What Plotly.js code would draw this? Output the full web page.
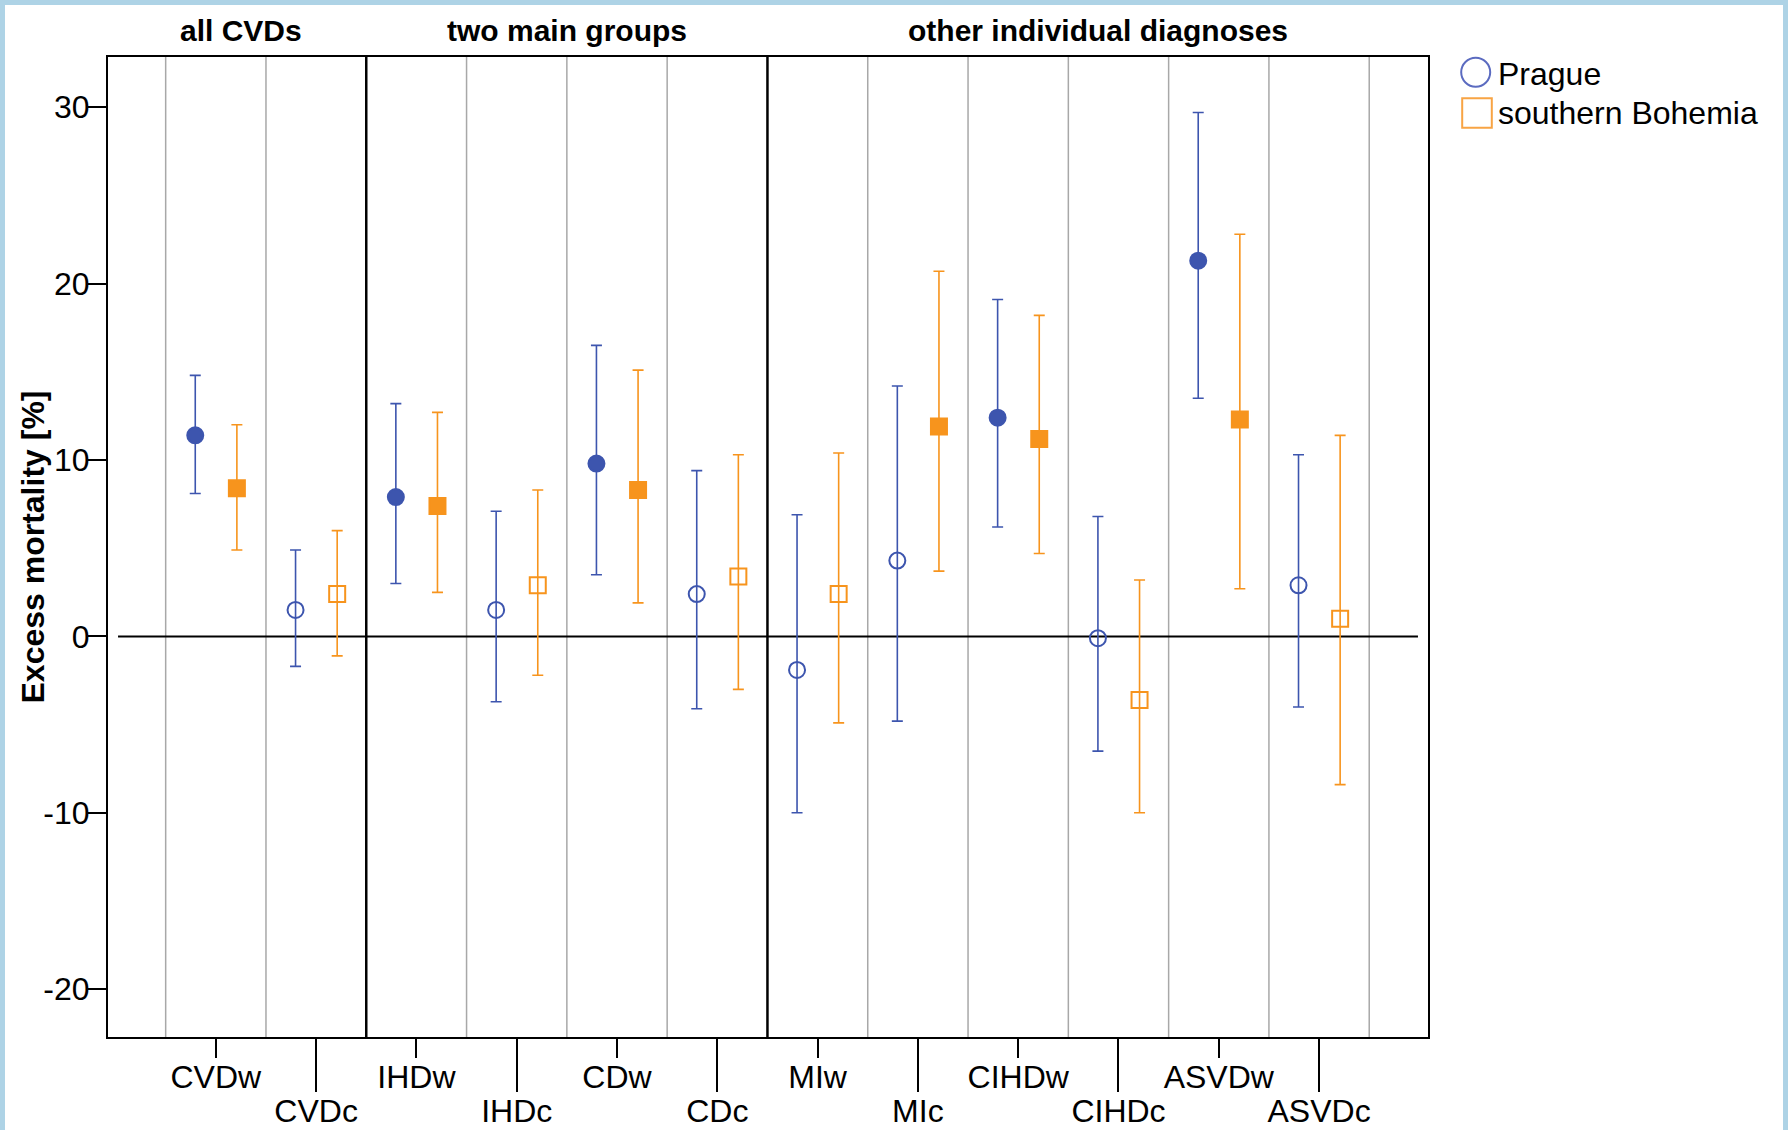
<!DOCTYPE html>
<html><head><meta charset="utf-8">
<script src="https://cdn.plot.ly/plotly-3.0.1.min.js"></script>
<style>
html,body{margin:0;padding:0;background:#aed3e6;width:1788px;height:1130px;overflow:hidden}
#chart{position:absolute;left:5px;top:5px;width:1778px;height:1125px;background:#fff}
</style></head><body><div id="chart"></div>
<script>
// ---- data ----
const categories = ['CVDw','CVDc','IHDw','IHDc','CDw','CDc','MIw','MIc','CIHDw','CIHDc','ASVDw','ASVDc'];
const pragueEst  = [11.4, 1.5, 7.9, 1.5, 9.8, 2.4, -1.9, 4.3, 12.4, -0.1, 21.3, 2.9];
const pragueLow  = [8.1, -1.7, 3.0, -3.7, 3.5, -4.1, -10.0, -4.8, 6.2, -6.5, 13.5, -4.0];
const pragueHigh = [14.8, 4.9, 13.2, 7.1, 16.5, 9.4, 6.9, 14.2, 19.1, 6.8, 29.7, 10.3];
const pragueSignificant = [true,false,true,false,true,false,false,false,true,false,true,false];
const bohemiaEst  = [8.4, 2.4, 7.4, 2.9, 8.3, 3.4, 2.4, 11.9, 11.2, -3.6, 12.3, 1.0];
const bohemiaLow  = [4.9, -1.1, 2.5, -2.2, 1.9, -3.0, -4.9, 3.7, 4.7, -10.0, 2.7, -8.4];
const bohemiaHigh = [12.0, 6.0, 12.7, 8.3, 15.1, 10.3, 10.4, 20.7, 18.2, 3.2, 22.8, 11.4];
const bohemiaSignificant = [true,false,true,false,true,false,false,true,true,false,true,false];
const seriesNames = ['Prague', 'southern Bohemia'];
const groupNames = ['all CVDs', 'two main groups', 'other individual diagnoses'];
const groupSeparators = [1.5, 5.5];
const yTicks = [-20, -10, 0, 10, 20, 30];
const yTickText = ['-20', '-10', '0', '10', '20', '30'];
const yTitle = 'Excess mortality [%]';

// ---- style ----
const FONT = 'Liberation Sans, Arial, sans-serif';
const BLUE = '#3d55ae', ORANGE = '#f7941d';
const X_RANGE = [-1.075, 12.086];
const Y_RANGE = [-22.71, 32.85];
const W = 1778, H = 1125, M = {l:103, r:355, t:52, b:93};
const PW = W - M.l - M.r, PH = H - M.t - M.b;
const px2paperX = p => (p - M.l) / PW;
const px2paperY = p => (H - M.b - p) / PH;

function makeTrace(name, est, lo, hi, sig, dx, color, fillSym, openSym) {
  return {
    type: 'scatter', mode: 'markers', name: name, showlegend: false,
    x: categories.map((c, i) => i + dx), y: est,
    marker: {
      symbol: sig.map(s => s ? fillSym : openSym),
      size: 16, color: color, line: {color: color, width: 2}
    },
    error_y: {
      type: 'data', symmetric: false,
      array: hi.map((h, i) => h - est[i]),
      arrayminus: est.map((e, i) => e - lo[i]),
      color: color, thickness: 1.6, width: 5.5
    },
    cliponaxis: false, hoverinfo: 'x+y'
  };
}

const traces = [
  makeTrace(seriesNames[0], pragueEst, pragueLow, pragueHigh, pragueSignificant, -0.205, BLUE, 'circle', 'circle-open'),
  makeTrace(seriesNames[1], bohemiaEst, bohemiaLow, bohemiaHigh, bohemiaSignificant, 0.21, ORANGE, 'square', 'square-open'),
  {type:'scatter', mode:'markers', x:[null], y:[null], xaxis:'x2', yaxis:'y', showlegend:false, hoverinfo:'skip'}
];

const idx = categories.map((c, i) => i);
const evenIdx = idx.filter(i => i % 2 === 0);
const oddIdx = idx.filter(i => i % 2 === 1);
const tickFont = {family: FONT, size: 32, color: '#000'};

const shapes = [];
// category boundary grid lines
idx.concat([categories.length]).forEach(i => {
  const b = i - 0.5;
  if (groupSeparators.indexOf(b) >= 0) return;
  shapes.push({type:'line', xref:'x', yref:'paper', x0:b, x1:b, y0:0, y1:1,
    line:{color:'#a8a8a8', width:1.5}, layer:'below'});
});
groupSeparators.forEach(b => shapes.push({type:'line', xref:'x', yref:'paper', x0:b, x1:b, y0:0, y1:1,
  line:{color:'#000', width:2.5}, layer:'below'}));
// zero reference line
shapes.push({type:'line', xref:'paper', yref:'y', x0:0.0076, x1:0.9924, y0:0, y1:0,
  line:{color:'#000', width:2}, layer:'below'});
// legend symbols
shapes.push({type:'circle', xref:'paper', yref:'paper', xsizemode:'pixel', ysizemode:'pixel',
  xanchor:px2paperX(1470.7), yanchor:px2paperY(67.3), x0:-14.5, x1:14.5, y0:-14.5, y1:14.5,
  line:{color:'#5b6bc0', width:2}});
shapes.push({type:'rect', xref:'paper', yref:'paper', xsizemode:'pixel', ysizemode:'pixel',
  xanchor:px2paperX(1472), yanchor:px2paperY(108), x0:-14.8, x1:14.8, y0:-14.8, y1:14.8,
  line:{color:'#f8a444', width:2}});

const annotations = [];
const edges = [X_RANGE[0]].concat(groupSeparators, [X_RANGE[1]]);
groupNames.forEach((g, k) => {
  annotations.push({text:g, xref:'x', yref:'paper', x:(edges[k] + edges[k+1]) / 2 + (k === 0 ? 0.04 : 0), y:px2paperY(26),
    xanchor:'center', yanchor:'middle', showarrow:false,
    font:{family:FONT, size:30, color:'#000', weight:'bold'}});
});
annotations.push({text:yTitle, xref:'paper', yref:'paper', x:px2paperX(27.5), y:0.5, textangle:-90,
  xanchor:'center', yanchor:'middle', showarrow:false,
  font:{family:FONT, size:32, color:'#000', weight:'bold'}});
annotations.push({text:seriesNames[0], xref:'paper', yref:'paper', x:px2paperX(1491), y:px2paperY(69),
  xanchor:'left', yanchor:'middle', showarrow:false, font:{family:FONT, size:32, color:'#000'}});
annotations.push({text:seriesNames[1], xref:'paper', yref:'paper', x:px2paperX(1491), y:px2paperY(108),
  xanchor:'left', yanchor:'middle', showarrow:false, font:{family:FONT, size:32, color:'#000'}});

const layout = {
  width: W, height: H, margin: M,
  paper_bgcolor: '#fff', plot_bgcolor: '#fff',
  font: {family: FONT, color: '#000'},
  showlegend: false,
  xaxis: {range: X_RANGE, tickmode:'array', tickvals: evenIdx, ticktext: evenIdx.map(i => categories[i]),
    ticks:'outside', ticklen:19, tickwidth:2, tickcolor:'#000', showgrid:false, zeroline:false,
    showline:true, mirror:true, linecolor:'#000', linewidth:2, tickfont: tickFont, fixedrange:true,
    ticklabelstandoff:-8},
  xaxis2: {range: X_RANGE, overlaying:'x', anchor:'y', side:'bottom', tickmode:'array', tickvals: oddIdx,
    ticktext: oddIdx.map(i => categories[i]), ticks:'outside', ticklen:54, tickwidth:2, tickcolor:'#000',
    showgrid:false, zeroline:false, showline:false, tickfont: tickFont, fixedrange:true,
    ticklabelstandoff:-8},
  yaxis: {range: Y_RANGE, tickmode:'array', tickvals: yTicks, ticktext: yTickText, ticks:'outside', ticklen:18, tickwidth:2,
    tickcolor:'#000', showgrid:false, zeroline:false, showline:true, mirror:true, linecolor:'#000',
    linewidth:2, tickfont: tickFont, fixedrange:true, ticklabelstandoff:-8},
  shapes: shapes,
  annotations: annotations
};

Plotly.newPlot('chart', traces, layout, {displayModeBar:false, responsive:false});
</script></body></html>
